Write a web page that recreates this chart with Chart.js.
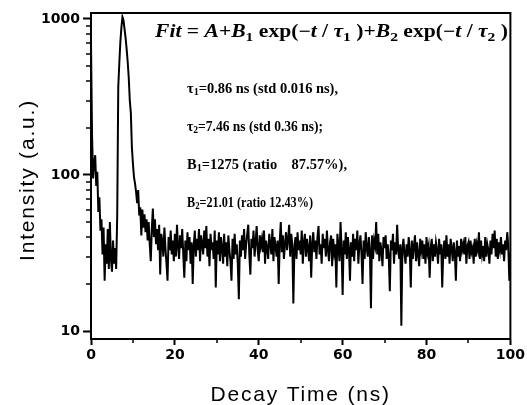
<!DOCTYPE html>
<html>
<head>
<meta charset="utf-8">
<script src="https://cdn.jsdelivr.net/npm/chart.js@4.4.0/dist/chart.umd.min.js"></script>
<style>
  html, body { margin: 0; padding: 0; background: #fff; }
  #wrap { width: 527px; height: 405px; }
</style>
</head>
<body>
<div id="wrap"><canvas id="decay" width="527" height="405"></canvas></div>
<script>
// samples every 0.25 ns, from 0 to 100 ns
const timeStep = 0.25

const counts = [
  700, 180, 95, 120, 134, 85, 105, 58, 72, 44, 52, 31,
  46, 21, 36, 27, 45, 25, 50, 29, 24, 38, 27, 34,
  25, 55, 366, 520, 712, 880, 1030, 980, 860, 755, 640, 530,
  420, 300, 250, 150, 118, 97, 88, 78, 66, 80, 55, 62,
  41, 60, 46, 56, 43, 52, 38, 50, 36, 28, 45, 61,
  40, 52, 36, 45, 33, 48, 23, 42, 38, 30, 46, 34,
  27, 21, 40, 33, 44, 31, 38, 28, 42, 30, 48, 35,
  29, 41, 34, 45, 31, 22, 38, 28, 43, 33, 40, 27,
  37, 20, 35, 44, 30, 39, 33, 45, 28, 41, 36, 31,
  44, 34, 47, 30, 39, 26, 42, 33, 37, 29, 44, 19,
  38, 31, 43, 28, 40, 34, 27, 42, 30, 37, 26, 41,
  33, 28, 21, 39, 29, 42, 31, 36, 27, 16, 38, 30,
  41, 33, 45, 29, 36, 42, 48, 31, 23, 39, 34, 44,
  30, 37, 47, 33, 28, 41, 35, 39, 32, 44, 27, 38,
  34, 29, 42, 36, 31, 45, 28, 40, 35, 30, 38, 20,
  37, 50, 32, 41, 29, 36, 43, 33, 39, 48, 30, 42,
  36, 15, 34, 40, 29, 43, 33, 38, 31, 44, 27, 37,
  42, 30, 39, 34, 28, 41, 22, 36, 43, 32, 38, 29,
  40, 47, 31, 36, 27, 42, 34, 39, 30, 44, 33, 28,
  37, 41, 26, 39, 32, 36, 19, 42, 35, 28, 50, 33,
  17, 38, 31, 43, 29, 40, 34, 21, 37, 30, 42, 28,
  39, 33, 44, 27, 36, 41, 31, 20, 38, 29, 43, 34,
  30, 40, 33, 14, 41, 29, 38, 35, 50, 31, 42, 28,
  37, 33, 26, 40, 34, 41, 29, 36, 30, 18, 38, 33,
  42, 27, 37, 31, 48, 33, 29, 36, 10.8, 34, 39, 31,
  27, 36, 30, 40, 33, 19, 38, 29, 35, 41, 28, 37,
  31, 26, 39, 33, 38, 29, 36, 27, 40, 32, 35, 22,
  34, 39, 28, 36, 30, 37, 33, 27, 39, 31, 36, 19,
  33, 38, 29, 41, 30, 36, 27, 39, 34, 28, 37, 32,
  21, 38, 30, 35, 28, 39, 33, 36, 31, 40, 27, 35,
  37, 29, 38, 32, 34, 27, 39, 30, 36, 33, 43, 29,
  38, 31, 35, 28, 40, 30, 36, 33, 27, 38, 31, 42,
  34, 44, 30, 39, 29, 37, 33, 40, 31, 36, 28, 38,
  33, 43, 35, 21, 32
]

const xTicks = [0, 20, 40, 60, 80, 100]
const xMinorTicks = [10, 30, 50, 70, 90]
const yTicks = [10, 100, 1000]
const yMinorTicks = [20, 30, 40, 50, 60, 70, 80, 90, 200, 300, 400, 500, 600, 700, 800, 900]

const xTitle = 'Decay Time (ns)'
const yTitle = 'Intensity (a.u.)'

// formula pieces: i = italic, r = upright, s = subscript
const fitFormula = [
  ['Fit', 'i'], [' = ', 'r'], ['A', 'i'], ['+', 'r'], ['B', 'i'], ['1', 's'],
  [' exp(\u2212', 'r'], ['t', 'i'], [' / ', 'r'], ['\u03c4', 'i'], ['1', 's'], [' )+', 'r'],
  ['B', 'i'], ['2', 's'], [' exp(\u2212', 'r'], ['t', 'i'], [' / ', 'r'], ['\u03c4', 'i'], ['2', 's'], [' )', 'r']
]
const fitLines = [
  [['\u03c4', 'r'], ['1', 's'], ['=0.86 ns (std 0.016 ns),', 'r']],
  [['\u03c4', 'r'], ['2', 's'], ['=7.46 ns (std 0.36 ns);', 'r']],
  [['B', 'r'], ['1', 's'], ['=1275 (ratio    87.57%),', 'r']],
  [['B', 'r'], ['2', 's'], ['=21.01 (ratio 12.43%)', 'r']]
]

const points = counts.map((c, i) => ({ x: i * timeStep, y: c }))

const serif = "'Liberation Serif', 'Times New Roman', serif"
const sans = "'Liberation Sans', Arial, sans-serif"

function runFont(style, size) {
  if (style === 'i') return 'italic bold ' + size + 'px ' + serif
  if (style === 's') return 'bold ' + Math.round(size * 0.7) + 'px ' + serif
  return 'bold ' + size + 'px ' + serif
}

function drawRuns(ctx, runs, x, y, size, width, subDrop) {
  let total = 0
  runs.forEach(r => { ctx.font = runFont(r[1], size); total += ctx.measureText(r[0]).width })
  ctx.save()
  ctx.translate(x, y)
  ctx.scale(width / total, 1)
  let cx = 0
  runs.forEach(r => {
    ctx.font = runFont(r[1], size)
    ctx.fillText(r[0], cx, r[1] === 's' ? subDrop : 0)
    cx += ctx.measureText(r[0]).width
  })
  ctx.restore()
}

const framePlugin = {
  id: 'frame',
  afterDraw(chart) {
    const { ctx, chartArea: a, scales: { x, y } } = chart
    ctx.save()
    ctx.strokeStyle = '#000'
    ctx.lineWidth = 2
    ctx.strokeRect(a.left, a.top, a.right - a.left, a.bottom - a.top)

    ctx.lineWidth = 1.5
    ctx.beginPath()
    xMinorTicks.forEach(v => {
      const px = Math.round(x.getPixelForValue(v))
      ctx.moveTo(px, a.bottom)
      ctx.lineTo(px, a.bottom + 4)
    })
    yMinorTicks.forEach(v => {
      const py = Math.round(y.getPixelForValue(v))
      ctx.moveTo(a.left, py)
      ctx.lineTo(a.left - 5, py)
    })
    ctx.stroke()

    // axis titles
    ctx.fillStyle = '#000'
    ctx.font = '21px ' + sans
    ctx.letterSpacing = '1.8px'
    ctx.textAlign = 'center'
    ctx.textBaseline = 'middle'
    ctx.fillText(xTitle, (a.left + a.right) / 2, 395)
    ctx.save()
    ctx.translate(28, 180)
    ctx.rotate(-Math.PI / 2)
    ctx.fillText(yTitle, 0, 0)
    ctx.restore()
    ctx.letterSpacing = '0px'

    // fit annotation
    ctx.textAlign = 'left'
    ctx.textBaseline = 'alphabetic'
    drawRuns(ctx, fitFormula, 155, 37, 18, 353, 4)
    const lineWidths = [151, 136, 160, 126]
    fitLines.forEach((runs, i) => {
      drawRuns(ctx, runs, 187, 93 + i * 38, 14, lineWidths[i], 2)
    })
    ctx.restore()
  }
}

const tickFont = { family: "'DejaVu Sans', sans-serif", size: 14, weight: 'bold' }

const ctx = document.getElementById('decay')
const decayChart = new Chart(ctx, {
  type: 'line',
  data: {
    datasets: [{
      data: points,
      borderColor: '#000',
      borderWidth: 2,
      pointRadius: 0,
      tension: 0,
      fill: false
    }]
  },
  options: {
    responsive: false,
    animation: false,
    devicePixelRatio: 1,
    layout: { padding: { top: 13, right: 14, left: 0, bottom: 0 } },
    plugins: { legend: { display: false }, tooltip: { enabled: false } },
    scales: {
      x: {
        type: 'linear',
        min: 0,
        max: 100,
        afterBuildTicks: s => { s.ticks = xTicks.map(v => ({ value: v })) },
        afterFit: s => { s.height = 66 },
        grid: { drawOnChartArea: false, drawTicks: true, tickLength: 6, tickWidth: 2, tickColor: '#000' },
        border: { display: true, color: '#000', width: 2 },
        ticks: { color: '#000', font: tickFont, padding: 2, maxRotation: 0 }
      },
      y: {
        type: 'logarithmic',
        min: 8.89,
        max: 1092,
        afterBuildTicks: s => { s.ticks = yTicks.map(v => ({ value: v })) },
        afterFit: s => { s.width = 91 },
        grid: { drawOnChartArea: false, drawTicks: true, tickLength: 8, tickWidth: 2, tickColor: '#000' },
        border: { display: true, color: '#000', width: 2 },
        ticks: { color: '#000', font: tickFont, padding: 3, callback: v => String(v) }
      }
    }
  },
  plugins: [framePlugin]
})
</script>
</body>
</html>
